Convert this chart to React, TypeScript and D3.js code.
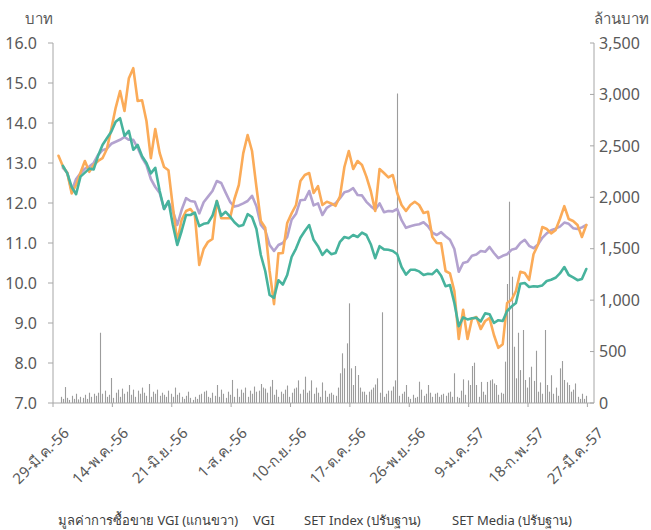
import React from "react";
import * as d3 from "d3";

// trading-day categories; tick labels every 27 days
const tickLabels = [
  "29-มี.ค.-56", "14-พ.ค.-56", "21-มิ.ย.-56", "1-ส.ค.-56", "10-ก.ย.-56",
  "17-ต.ค.-56", "26-พ.ย.-56", "9-ม.ค.-57", "18-ก.พ.-57", "27-มี.ค.-57",
];
const tickEvery = 27;
const totalDays = 246;

const leftTicks = [7, 8, 9, 10, 11, 12, 13, 14, 15, 16];
const rightTicks = [0, 500, 1000, 1500, 2000, 2500, 3000, 3500];

// price lines, sampled every 2 trading days starting at day 2 (บาท)
const vgi = [
  null, 12.93, 12.74, 12.4, 12.22, 12.66, 12.76, 12.86, 12.84, 13.18,
  13.45, 13.62, 13.78, 14.03, 14.12, 13.68, 13.8, 13.33, 13.45, 13.17,
  13.0, 12.74, 12.88, 12.3, 11.85, 12.05, 11.45, 10.95, 11.3, 11.7,
  11.7, 11.76, 11.42, 11.48, 11.5, 11.68, 12.05, 11.68, 11.78, 11.66,
  11.52, 11.42, 11.45, 11.72, 11.65, 11.35, 10.7, 10.3, 9.7, 9.63,
  10.07, 9.96, 10.2, 10.65, 10.86, 11.13, 11.3, 11.45, 11.08, 10.92,
  10.7, 10.83, 10.72, 10.75, 11.03, 11.15, 11.12, 11.2, 11.15, 11.26,
  11.2, 10.97, 10.62, 10.92, 10.84, 10.83, 10.8, 10.72, 10.4, 10.21,
  10.33, 10.33, 10.29, 10.2, 10.23, 10.22, 10.33, 10.18, 9.92, 9.95,
  9.5, 8.92, 9.14, 9.09, 9.12, 9.13, 9.04, 9.24, 9.22, 9.0,
  9.07, 9.05, 9.3, 9.41, 9.5, 9.98, 10.0, 9.9, 9.92, 9.91,
  9.94, 10.05, 10.08, 10.13, 10.24, 10.4, 10.2, 10.14, 10.07, 10.1,
  10.35,
];
const setIndex = [
  null, 12.88, 12.76, 12.3, 12.6, 12.74, 12.86, 12.91, 13.0, 13.2,
  13.32, 13.36, 13.48, 13.53, 13.58, 13.65, 13.58, 13.58, 13.38, 13.13,
  12.95, 12.6, 12.4, 12.25, 11.85, 12.03, 11.8, 11.45, 11.83, 12.12,
  12.05, 12.03, 11.74, 12.02, 12.16, 12.3, 12.55, 12.5, 12.26, 12.03,
  11.91, 11.94, 11.99, 12.05, 12.18, 11.92, 11.45, 11.32, 10.95, 10.8,
  10.95, 11.0, 11.15, 11.58, 11.73, 12.07, 12.08, 12.3, 11.94, 11.99,
  11.7, 11.88, 11.95, 11.99, 12.12, 12.27, 12.3, 12.37, 12.2, 12.19,
  12.03, 11.92, 11.83, 11.99, 11.77, 11.8, 11.79, 11.85, 11.57, 11.38,
  11.42, 11.45, 11.47, 11.52, 11.42, 11.26, 11.2, 11.27, 11.17, 11.08,
  10.85, 10.28, 10.5, 10.53, 10.68, 10.71, 10.8, 10.78, 10.9, 10.75,
  10.62, 10.68, 10.72, 10.83, 10.86, 11.0, 11.08, 10.93, 10.87, 10.96,
  11.13, 11.24, 11.32, 11.36, 11.41, 11.51, 11.48, 11.37, 11.35, 11.39,
  11.45,
];
const setMedia = [
  13.18, 12.92, 12.75, 12.24, 12.45, 12.76, 13.05, 12.78, 12.95, 13.05,
  13.12, 13.35, 13.85, 14.38, 14.8, 14.3, 15.12, 15.37, 14.55, 14.57,
  14.05, 13.12, 13.85, 13.25, 12.9, 12.82, 11.9, 11.03, 11.58, 11.8,
  11.85, 11.7, 10.45, 10.85, 11.03, 11.1, 12.05, 11.62, 11.62, 11.62,
  12.1, 12.45, 13.24, 13.7, 13.3, 12.4, 11.55, 11.38, 10.3, 9.47,
  10.74, 10.75, 11.5, 11.74, 11.95, 12.55, 12.7, 12.75, 12.25, 12.42,
  11.95, 12.03, 11.99, 11.93, 12.17, 12.9, 13.3, 12.85, 13.05, 12.95,
  12.66, 12.3, 11.8, 12.85, 12.75, 12.64, 12.7, 12.25, 11.95, 11.8,
  11.95, 12.03, 11.95, 11.75, 11.78, 11.15, 11.0, 10.99, 10.3, 10.24,
  9.8, 8.6, 9.33, 8.6, 9.1, 9.15, 8.85, 9.05, 9.12, 8.7,
  8.38, 8.47, 9.5, 9.58, 9.8, 10.28, 10.25, 10.08, 10.72, 10.95,
  11.4, 11.35, 11.24, 11.32, 11.6, 11.92, 11.6, 11.55, 11.45, 11.15,
  11.45,
];
const lineStart = 2;
const lineStep = 2;

// daily trading value of VGI (ล้านบาท), from day 3
const tradeValue = [
  60, 40, 155, 50, 30, 70, 40, 90, 35, 60,
  50, 80, 40, 100, 60, 90, 70, 100, 683, 90,
  120, 60, 80, 243, 50, 100, 130, 60, 140, 90,
  110, 175, 80, 130, 60, 120, 90, 150, 100, 70,
  185, 60, 110, 90, 130, 70, 100, 80, 60, 120,
  90, 60, 150, 80, 100, 60, 40, 70, 110, 50,
  30, 60, 40, 80, 90, 110, 120, 60, 50, 100,
  70, 175, 60, 130, 90, 50, 110, 80, 224, 60,
  140, 60, 130, 100, 150, 60, 120, 90, 160, 110,
  120, 185, 150, 140, 100, 160, 224, 80, 130, 60,
  110, 90, 130, 170, 60, 100, 140, 150, 220, 90,
  130, 256, 100, 120, 220, 90, 150, 100, 60, 200,
  120, 60, 90, 100, 80, 70, 150, 289, 483, 337,
  580, 969, 337, 175, 360, 272, 150, 110, 110, 80,
  110, 130, 150, 180, 240, 100, 882, 60, 90, 120,
  120, 160, 220, 3010, 70, 90, 110, 175, 60, 40,
  80, 50, 60, 207, 130, 70, 90, 175, 100, 60,
  90, 100, 60, 80, 90, 70, 100, 110, 60, 289,
  60, 50, 120, 230, 80, 220, 175, 360, 392, 175,
  60, 205, 110, 80, 205, 220, 230, 190, 175, 80,
  100, 90, 402, 1157, 1957, 1228, 547, 240, 683, 320,
  710, 224, 150, 250, 353, 215, 508, 110, 200, 90,
  710, 175, 110, 270, 90, 150, 70, 337, 408, 224,
  200, 175, 110, 130, 190, 60, 40, 90, 40, 70,
];
const barStart = 3;

const legendItems = [
  "มูลค่าการซื้อขาย VGI (แกนขวา)",
  "VGI",
  "SET Index (ปรับฐาน)",
  "SET Media (ปรับฐาน)",
];

const W = 651;
const H = 530;
const left = 53;
const right = 594;
const top = 43;
const bottom = 403;
const font = "'Noto Sans', 'Liberation Sans', 'DejaVu Sans', sans-serif";
const axisColor = "#a6a6a6";
const textColor = "#595959";

export default function App() {
  const x = d3.scaleLinear().domain([0, totalDays]).range([left, right]);
  const yL = d3.scaleLinear().domain([7, 16]).range([bottom, top]);
  const yR = d3.scaleLinear().domain([0, 3500]).range([bottom, top]);

  const makeLine = d3
    .line<number | null>()
    .defined((d) => d != null)
    .x((_, j) => x(lineStart + j * lineStep + 0.5))
    .y((d) => yL(d as number));

  const series = [
    { data: setIndex, color: "#b3a2cf" },
    { data: setMedia, color: "#fbab58" },
    { data: vgi, color: "#47b39d" },
  ];

  const legendX = [58, 253, 304, 452];

  return (
    <svg
      width={W}
      height={H}
      style={{ position: "absolute", left: 0, top: 0, background: "#fff" }}
      fontFamily={font}
    >
      {/* trading value bars */}
      <g stroke="#9c9c9c" strokeWidth={1.1}>
        {tradeValue.map((v, i) => {
          const cx = Math.round(x(barStart + i + 0.5)) + 0.5;
          return <line key={i} x1={cx} x2={cx} y1={yR(0)} y2={yR(v)} />;
        })}
      </g>

      {/* lines */}
      {series.map((s, k) => (
        <path
          key={k}
          d={makeLine(s.data) || ""}
          fill="none"
          stroke={s.color}
          strokeWidth={2.6}
          strokeLinejoin="round"
          strokeLinecap="round"
        />
      ))}

      {/* left axis */}
      <line x1={left} x2={left} y1={top} y2={bottom} stroke={axisColor} />
      {leftTicks.map((t) => (
        <g key={t} transform={`translate(0,${yL(t)})`}>
          <line x1={left - 5} x2={left} stroke={axisColor} />
          <text x={37} dy="0.36em" textAnchor="end" fontSize={16} fill={textColor}>
            {t.toFixed(1)}
          </text>
        </g>
      ))}
      <text x={25} y={24} fontSize={15} fill={textColor}>บาท</text>

      {/* right axis */}
      <line x1={right} x2={right} y1={top} y2={bottom} stroke={axisColor} />
      {rightTicks.map((t) => (
        <g key={t} transform={`translate(0,${yR(t)})`}>
          <line x1={right - 4} x2={right} stroke={axisColor} />
          <text x={599} dy="0.36em" fontSize={16} fill={textColor}>
            {d3.format(",")(t)}
          </text>
        </g>
      ))}
      <text x={594} y={24} fontSize={15} fill={textColor}>ล้านบาท</text>

      {/* bottom axis */}
      <line x1={left} x2={right} y1={bottom} y2={bottom} stroke={axisColor} />
      {tickLabels.map((lab, k) => {
        const tx = x(k * tickEvery);
        return (
          <g key={lab}>
            <line x1={tx} x2={tx} y1={bottom} y2={bottom + 4} stroke={axisColor} />
            <text
              transform={`translate(${tx + 17},${bottom + 31}) rotate(-45)`}
              textAnchor="end"
              fontSize={15}
              fill={textColor}
            >
              {lab}
            </text>
          </g>
        );
      })}

      {/* legend */}
      {legendItems.map((lab, k) => (
        <text key={lab} x={legendX[k]} y={525} fontSize={13} fill="#404040">
          {lab}
        </text>
      ))}
    </svg>
  );
}
